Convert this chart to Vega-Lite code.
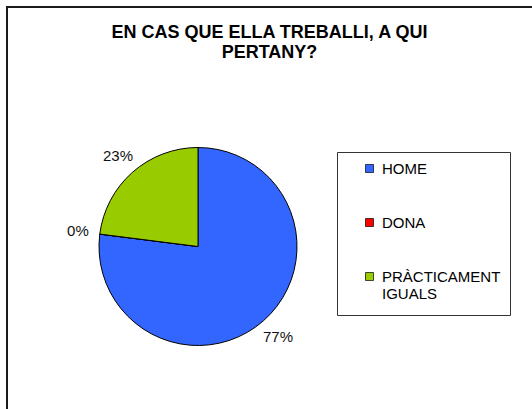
{
  "$schema": "https://vega.github.io/schema/vega-lite/v6.json",
  "width": 525,
  "height": 402,
  "autosize": "none",
  "padding": {"left": 7, "top": 7, "right": 0, "bottom": 0},
  "background": "white",
  "config": {
    "view": {"stroke": null},
    "font": "Liberation Sans"
  },
  "title": {
    "text": ["EN CAS QUE ELLA TREBALLI, A QUI", "PERTANY?"],
    "anchor": "middle",
    "dx": 0,
    "dy": 57,
    "offset": 0,
    "fontSize": 18,
    "fontWeight": "bold",
    "lineHeight": 20,
    "color": "#000000",
    "font": "Liberation Sans"
  },
  "data": {
    "values": [
      {"cat": "HOME", "pct": 0.77, "ord": 1},
      {"cat": "DONA", "pct": 0.0, "ord": 2},
      {"cat": "PRÀCTICAMENT IGUALS", "pct": 0.23, "ord": 3}
    ]
  },
  "layer": [
    {
      "data": {"values": [{"frame": 1}]},
      "mark": {"type": "rule", "stroke": "#1a1a1a", "strokeWidth": 2},
      "encoding": {"x": {"value": 0}, "y": {"value": -1}, "y2": {"value": 402}}
    },
    {
      "data": {"values": [{"frame": 1}]},
      "mark": {"type": "rule", "stroke": "#1a1a1a", "strokeWidth": 2},
      "encoding": {"x": {"value": -1}, "x2": {"value": 525}, "y": {"value": 0}}
    },
    {
      "mark": {"type": "arc", "x": 191, "y": 239.5, "outerRadius": 99, "stroke": "#000000", "strokeWidth": 1},
      "encoding": {
        "theta": {"field": "pct", "type": "quantitative", "stack": true},
        "order": {"field": "ord", "type": "quantitative"},
        "color": {
          "field": "cat",
          "type": "nominal",
          "sort": ["HOME", "DONA", "PRÀCTICAMENT IGUALS"],
          "scale": {"domain": ["HOME", "DONA", "PRÀCTICAMENT IGUALS"], "range": ["#3366FF", "#FF0000", "#99CC00"]},
          "legend": {
            "orient": "none",
            "legendX": 330,
            "legendY": 145,
            "title": " ",
            "titleOrient": "bottom",
            "titleFontSize": 2,
            "titlePadding": 2,
            "strokeColor": "#333333",
            "fillColor": "#ffffff",
            "padding": 9,
            "symbolOffset": 16,
            "rowPadding": 38,
            "symbolType": "square",
            "symbolSize": 64,
            "symbolStrokeColor": "#000000",
            "symbolStrokeWidth": 0.7,
            "labelFont": "Liberation Sans",
            "labelFontSize": 15,
            "labelColor": "#000000",
            "labelOffset": 5,
            "labelLimit": 300,
            "labelLineHeight": 20,
            "labelExpr": "datum.label == 'PRÀCTICAMENT IGUALS' ? ['PRÀCTICAMENT    ', 'IGUALS'] : datum.label"
          }
        }
      }
    },
    {
      "mark": {"type": "text", "x": 191, "y": 239.5, "radius": 121, "fontSize": 15, "font": "Liberation Sans", "color": "#111111"},
      "encoding": {
        "theta": {"field": "pct", "type": "quantitative", "stack": true},
        "order": {"field": "ord", "type": "quantitative"},
        "text": {"field": "pct", "type": "quantitative", "format": ".0%"}
      }
    }
  ]
}
